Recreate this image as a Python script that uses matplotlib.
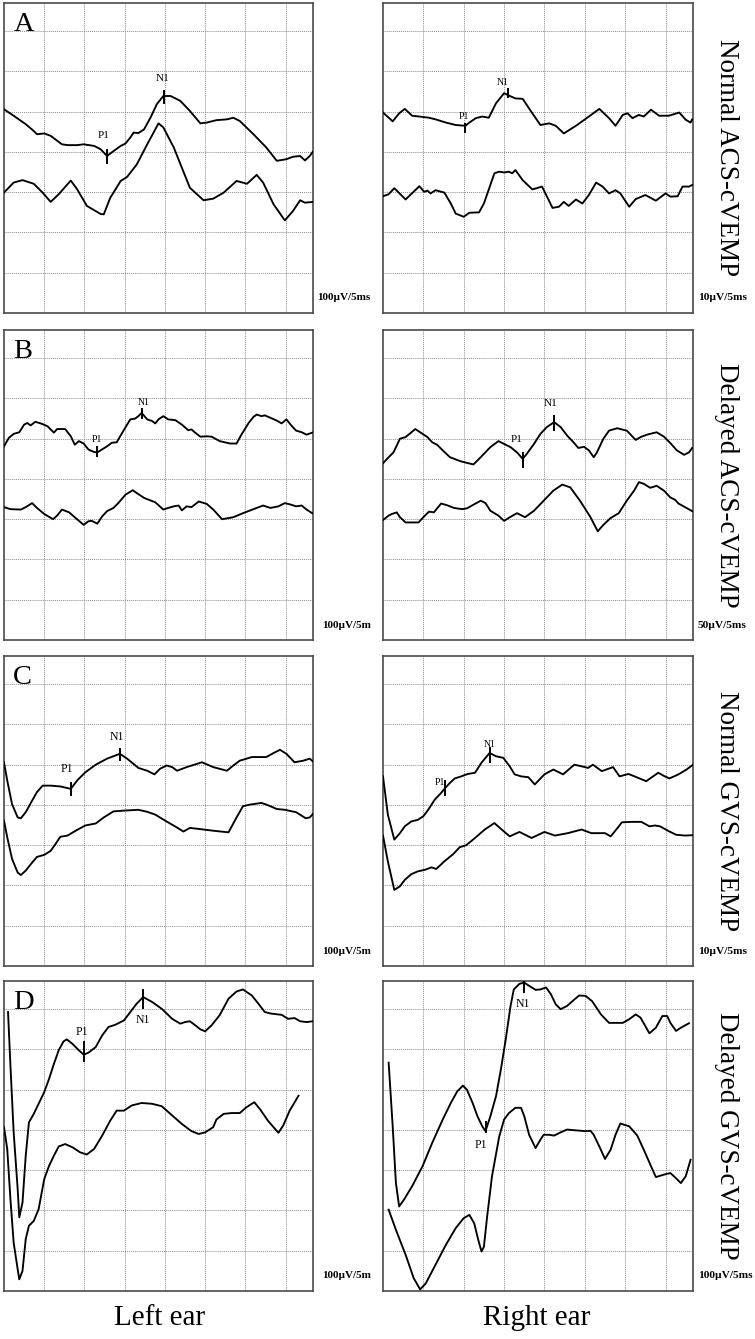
import matplotlib
matplotlib.use("Agg")
import matplotlib.pyplot as plt
from matplotlib.patches import Rectangle

# time in ms, amplitude in screen divisions (one grid square = 5 ms)
A_L_UP_T = [0.0, 1.2, 2.7, 3.7, 4.1, 5.0, 5.8, 7.2, 7.9, 9.1, 9.9, 11.2, 12.0, 12.8, 13.6, 14.5, 15.1, 15.7, 16.1, 16.7, 17.4, 18.2, 19.0, 19.8, 20.7, 21.9, 23.1, 24.4, 25.2, 26.4, 27.7, 28.5, 29.3, 31.0, 32.6, 33.9, 35.1, 35.9, 36.8, 37.4, 38.0, 38.4]
A_L_UP_V = [5.06, 4.90, 4.69, 4.52, 4.44, 4.46, 4.40, 4.19, 4.17, 4.17, 4.19, 4.15, 4.07, 3.90, 4.02, 4.15, 4.21, 4.36, 4.48, 4.47, 4.56, 4.85, 5.19, 5.39, 5.39, 5.27, 5.02, 4.71, 4.73, 4.79, 4.81, 4.85, 4.77, 4.44, 4.11, 3.78, 3.82, 3.88, 3.90, 3.79, 3.90, 4.01]
A_L_LO_T = [0.0, 1.2, 2.3, 3.7, 4.8, 5.8, 6.8, 8.3, 9.1, 10.3, 12.0, 12.4, 13.2, 14.5, 15.3, 16.5, 17.8, 19.2, 19.8, 21.1, 22.1, 23.1, 24.8, 26.0, 27.3, 28.9, 30.2, 31.4, 32.2, 33.5, 34.9, 35.9, 36.8, 37.4, 38.4]
A_L_LO_V = [2.99, 3.24, 3.30, 3.21, 2.99, 2.76, 2.95, 3.29, 3.07, 2.66, 2.46, 2.45, 2.86, 3.28, 3.38, 3.69, 4.19, 4.71, 4.61, 4.11, 3.61, 3.11, 2.80, 2.84, 2.99, 3.28, 3.21, 3.43, 3.24, 2.70, 2.30, 2.53, 2.80, 2.74, 2.76]
A_L_PEAK_T = [12.8, 19.9]
A_L_PEAK_V = [3.89, 5.37]

A_R_UP_T = [0.0, 1.2, 2.0, 2.7, 3.6, 4.5, 5.7, 6.5, 7.8, 9.0, 10.2, 10.7, 11.5, 12.3, 13.1, 14.0, 15.0, 15.6, 16.4, 17.3, 18.5, 19.5, 20.6, 21.4, 22.4, 23.9, 25.5, 26.8, 28.0, 28.8, 29.7, 30.3, 30.9, 31.7, 32.3, 33.2, 34.2, 35.4, 36.7, 37.5, 38.1, 38.3]
A_R_UP_V = [4.98, 4.76, 4.96, 5.07, 4.90, 4.88, 4.85, 4.81, 4.73, 4.67, 4.65, 4.73, 4.84, 4.88, 4.85, 5.21, 5.46, 5.40, 5.33, 5.32, 4.96, 4.67, 4.71, 4.65, 4.46, 4.65, 4.88, 5.07, 4.84, 4.65, 4.92, 4.96, 4.84, 4.92, 4.88, 5.05, 4.90, 4.90, 4.98, 4.80, 4.73, 4.81]
A_R_LO_T = [0.0, 0.7, 1.4, 2.8, 4.5, 5.1, 5.5, 5.9, 6.5, 7.6, 8.4, 9.0, 10.0, 10.7, 11.9, 12.5, 13.8, 14.4, 15.0, 15.6, 16.0, 16.4, 17.3, 18.5, 19.7, 21.0, 21.8, 22.4, 23.0, 23.9, 24.7, 25.5, 26.4, 27.2, 28.0, 28.8, 29.4, 30.5, 31.3, 32.5, 33.8, 35.0, 35.6, 36.5, 37.1, 37.9, 38.3]
A_R_LO_V = [2.90, 2.95, 3.10, 2.82, 3.15, 3.01, 3.04, 2.97, 3.05, 2.99, 2.72, 2.47, 2.39, 2.49, 2.50, 2.72, 3.47, 3.51, 3.49, 3.51, 3.47, 3.55, 3.30, 3.07, 3.14, 2.61, 2.64, 2.76, 2.66, 2.82, 2.72, 2.93, 3.24, 3.14, 2.97, 3.05, 2.97, 2.64, 2.83, 2.93, 2.79, 2.97, 2.89, 2.90, 3.14, 3.14, 3.18]
A_R_PEAK_T = [10.2, 15.5]
A_R_PEAK_V = [4.60, 5.46]

B_L_UP_T = [0.0, 0.6, 1.2, 1.9, 2.5, 2.9, 3.3, 3.9, 4.7, 5.4, 5.8, 6.2, 6.6, 7.6, 8.3, 8.8, 9.3, 9.9, 10.5, 11.2, 11.6, 12.0, 12.8, 13.4, 14.0, 14.7, 15.3, 15.7, 16.3, 16.7, 17.1, 17.8, 18.4, 18.8, 19.2, 19.8, 20.4, 21.3, 22.1, 22.9, 23.3, 23.7, 24.4, 25.2, 25.8, 26.8, 28.1, 28.9, 29.5, 30.4, 31.0, 31.4, 32.0, 32.4, 33.1, 33.9, 34.5, 35.1, 35.7, 36.3, 37.0, 37.6, 38.3]
B_L_UP_V = [4.81, 5.02, 5.12, 5.16, 5.35, 5.39, 5.33, 5.42, 5.37, 5.31, 5.23, 5.15, 5.24, 5.24, 5.06, 4.85, 4.94, 4.88, 4.73, 4.67, 4.66, 4.71, 4.81, 4.90, 4.91, 5.15, 5.35, 5.48, 5.50, 5.56, 5.64, 5.48, 5.44, 5.38, 5.48, 5.56, 5.48, 5.46, 5.35, 5.21, 5.23, 5.16, 5.05, 5.06, 5.05, 4.94, 4.88, 4.88, 5.10, 5.39, 5.54, 5.60, 5.56, 5.58, 5.52, 5.45, 5.38, 5.48, 5.33, 5.20, 5.16, 5.10, 5.15]
B_L_LO_T = [0.0, 0.8, 2.1, 2.7, 3.5, 4.1, 5.0, 6.1, 6.6, 7.2, 8.1, 8.9, 9.9, 10.5, 10.9, 11.6, 12.2, 12.8, 13.6, 14.2, 15.1, 16.0, 16.5, 17.4, 18.8, 19.8, 20.4, 21.1, 21.7, 22.1, 22.7, 23.3, 24.2, 25.2, 26.0, 27.1, 28.5, 29.7, 31.4, 32.2, 33.1, 34.1, 34.9, 35.7, 36.3, 37.0, 37.6, 38.3]
B_L_LO_V = [3.30, 3.25, 3.24, 3.30, 3.40, 3.28, 3.13, 3.00, 3.09, 3.24, 3.17, 3.03, 2.86, 2.95, 2.96, 2.89, 3.07, 3.20, 3.28, 3.40, 3.61, 3.72, 3.65, 3.53, 3.42, 3.24, 3.28, 3.32, 3.34, 3.22, 3.32, 3.30, 3.44, 3.38, 3.24, 3.00, 3.05, 3.15, 3.28, 3.34, 3.28, 3.32, 3.40, 3.36, 3.32, 3.34, 3.24, 3.15]
B_L_PEAK_T = [11.6, 17.1]
B_L_PEAK_V = [4.69, 5.62]

B_R_UP_T = [0.0, 0.7, 1.3, 1.7, 2.1, 2.8, 3.4, 4.0, 4.6, 5.5, 6.1, 6.7, 7.5, 8.3, 9.6, 11.2, 12.1, 13.3, 14.3, 15.0, 15.8, 16.6, 17.3, 17.8, 18.7, 19.5, 20.3, 21.2, 22.0, 22.8, 23.6, 24.2, 24.9, 25.5, 26.1, 26.5, 27.3, 28.0, 29.0, 30.2, 31.3, 31.9, 32.7, 33.9, 34.8, 35.6, 36.4, 37.3, 37.9, 38.3]
B_R_UP_V = [4.39, 4.54, 4.66, 4.83, 5.00, 5.04, 5.14, 5.24, 5.16, 5.04, 4.91, 4.85, 4.69, 4.54, 4.44, 4.36, 4.54, 4.79, 4.94, 4.87, 4.79, 4.66, 4.50, 4.62, 4.87, 5.12, 5.29, 5.41, 5.29, 5.08, 4.91, 4.77, 4.80, 4.71, 4.54, 4.66, 5.00, 5.20, 5.26, 5.20, 4.97, 5.04, 5.10, 5.16, 5.05, 4.89, 4.71, 4.60, 4.66, 4.77]
B_R_LO_T = [0.0, 0.7, 1.1, 1.7, 2.1, 2.8, 3.6, 4.4, 5.0, 5.7, 6.3, 7.2, 7.9, 8.8, 9.8, 10.4, 11.2, 12.1, 12.7, 13.3, 14.3, 15.0, 15.8, 16.6, 17.6, 18.7, 19.9, 21.1, 22.2, 23.2, 24.4, 25.7, 26.6, 27.3, 28.2, 29.2, 30.2, 31.1, 31.7, 32.3, 33.1, 33.9, 34.8, 35.6, 36.2, 36.6, 37.5, 38.3]
B_R_LO_V = [2.98, 3.09, 3.13, 3.17, 3.05, 2.92, 2.92, 2.92, 3.05, 3.19, 3.17, 3.39, 3.35, 3.28, 3.25, 3.27, 3.36, 3.46, 3.40, 3.21, 3.09, 2.96, 3.06, 3.15, 3.05, 3.21, 3.46, 3.71, 3.86, 3.79, 3.46, 3.05, 2.70, 2.86, 3.03, 3.15, 3.46, 3.71, 3.92, 3.88, 3.78, 3.83, 3.71, 3.54, 3.48, 3.39, 3.29, 3.20]
B_R_PEAK_T = [17.3, 21.2]
B_R_PEAK_V = [4.47, 5.39]

C_L_UP_T = [0.0, 0.4, 1.0, 1.7, 2.1, 2.7, 3.5, 4.1, 4.8, 5.8, 7.0, 8.3, 9.1, 10.1, 11.4, 12.8, 14.4, 15.3, 16.7, 17.8, 18.7, 19.4, 20.2, 20.9, 21.5, 22.7, 24.6, 26.0, 27.7, 28.5, 29.3, 30.8, 32.6, 33.5, 34.3, 35.1, 36.1, 37.2, 38.0, 38.4]
C_L_UP_V = [5.06, 4.61, 4.02, 3.69, 3.67, 3.82, 4.11, 4.32, 4.48, 4.48, 4.46, 4.40, 4.61, 4.81, 5.00, 5.15, 5.27, 5.15, 4.92, 4.85, 4.76, 4.90, 4.98, 4.94, 4.85, 4.94, 5.06, 4.94, 4.85, 4.98, 5.10, 5.19, 5.19, 5.29, 5.37, 5.27, 5.06, 5.10, 5.15, 5.08]
C_L_LO_T = [0.0, 0.4, 1.0, 1.7, 2.1, 2.7, 3.5, 4.1, 5.0, 5.8, 6.4, 7.0, 7.9, 8.9, 10.1, 11.4, 12.4, 13.6, 14.9, 16.7, 17.8, 18.8, 20.2, 21.5, 22.3, 23.1, 24.4, 26.0, 27.9, 28.9, 29.7, 30.6, 32.0, 32.6, 33.9, 34.9, 36.3, 37.5, 38.0, 38.4]
C_L_LO_V = [3.61, 3.20, 2.66, 2.32, 2.26, 2.37, 2.57, 2.71, 2.76, 2.86, 3.03, 3.21, 3.24, 3.36, 3.49, 3.54, 3.69, 3.84, 3.86, 3.88, 3.83, 3.76, 3.59, 3.44, 3.34, 3.43, 3.40, 3.36, 3.32, 3.69, 3.97, 4.01, 4.05, 4.01, 3.90, 3.88, 3.82, 3.67, 3.69, 3.78]
C_L_PEAK_T = [8.3, 14.4]
C_L_PEAK_V = [4.40, 5.25]

C_R_UP_T = [0.0, 0.6, 1.4, 2.1, 2.7, 3.5, 4.3, 5.0, 5.6, 6.4, 7.2, 7.7, 8.3, 8.9, 9.7, 10.5, 11.4, 12.2, 13.2, 14.0, 14.9, 15.7, 16.3, 17.1, 18.0, 18.8, 20.0, 21.1, 22.3, 23.7, 24.6, 25.4, 26.0, 27.1, 28.5, 29.3, 30.4, 31.4, 32.6, 34.1, 34.9, 35.5, 36.6, 37.6, 38.4]
C_R_UP_V = [4.71, 3.76, 3.14, 3.30, 3.47, 3.59, 3.63, 3.72, 3.88, 4.13, 4.30, 4.42, 4.55, 4.66, 4.71, 4.77, 4.80, 5.05, 5.29, 5.21, 5.17, 4.96, 4.76, 4.71, 4.69, 4.51, 4.76, 4.88, 4.76, 5.00, 4.96, 4.92, 5.00, 4.84, 4.94, 4.71, 4.77, 4.69, 4.59, 4.80, 4.71, 4.66, 4.76, 4.88, 5.00]
C_R_LO_T = [0.0, 0.6, 1.4, 2.1, 2.7, 3.5, 4.3, 5.2, 6.0, 6.6, 7.6, 8.7, 9.5, 10.3, 11.4, 12.6, 13.8, 14.7, 15.7, 16.9, 18.4, 20.0, 21.3, 22.9, 24.6, 25.8, 27.5, 28.2, 28.9, 29.6, 30.8, 32.0, 33.0, 33.7, 34.3, 35.3, 36.3, 37.4, 38.4]
C_R_LO_V = [3.24, 2.60, 1.89, 1.98, 2.14, 2.28, 2.35, 2.39, 2.45, 2.41, 2.60, 2.78, 2.95, 3.00, 3.18, 3.39, 3.55, 3.39, 3.22, 3.33, 3.18, 3.33, 3.24, 3.30, 3.39, 3.30, 3.30, 3.22, 3.39, 3.57, 3.58, 3.58, 3.47, 3.49, 3.47, 3.36, 3.26, 3.24, 3.25]
C_R_PEAK_T = [7.7, 13.2]
C_R_PEAK_V = [4.42, 5.25]

D_L_UP_T = [0.5, 0.8, 1.2, 1.7, 1.9, 2.3, 2.7, 3.1, 3.7, 4.3, 5.0, 5.6, 6.2, 6.8, 7.4, 7.8, 8.5, 9.3, 9.9, 10.5, 11.4, 12.2, 13.0, 13.8, 14.9, 15.7, 16.5, 17.3, 18.4, 19.6, 20.9, 21.9, 22.5, 23.1, 23.7, 24.4, 25.0, 25.8, 26.8, 27.9, 28.9, 29.7, 30.8, 31.6, 32.4, 33.2, 34.5, 35.3, 36.1, 36.8, 37.6, 38.4]
D_L_UP_V = [6.93, 5.60, 3.94, 2.53, 1.83, 2.20, 3.36, 4.19, 4.40, 4.65, 4.94, 5.27, 5.64, 5.98, 6.20, 6.25, 6.14, 5.98, 5.87, 5.92, 6.06, 6.35, 6.56, 6.61, 6.72, 6.93, 7.14, 7.30, 7.18, 7.01, 6.76, 6.64, 6.68, 6.70, 6.61, 6.50, 6.45, 6.60, 6.85, 7.26, 7.44, 7.49, 7.34, 7.14, 6.93, 6.89, 6.86, 6.76, 6.78, 6.70, 6.68, 6.70]
D_L_LO_T = [0.0, 0.4, 0.8, 1.2, 1.7, 1.9, 2.3, 2.7, 3.1, 3.7, 4.3, 5.0, 5.6, 6.2, 6.8, 7.6, 8.5, 9.5, 10.3, 11.2, 12.2, 13.2, 14.0, 14.9, 15.9, 17.1, 18.4, 19.6, 20.9, 22.1, 23.3, 24.2, 25.0, 26.0, 26.4, 27.3, 28.3, 29.3, 30.1, 31.1, 31.8, 32.8, 34.1, 34.7, 35.5, 36.6]
D_L_LO_V = [4.07, 3.53, 2.28, 1.20, 0.54, 0.29, 0.50, 1.29, 1.62, 1.74, 2.03, 2.78, 3.11, 3.36, 3.59, 3.65, 3.57, 3.44, 3.39, 3.53, 3.86, 4.23, 4.48, 4.48, 4.61, 4.67, 4.65, 4.59, 4.36, 4.15, 3.97, 3.90, 3.94, 4.07, 4.26, 4.40, 4.42, 4.42, 4.56, 4.69, 4.52, 4.23, 3.93, 4.11, 4.48, 4.85]
D_L_PEAK_T = [9.9, 17.3]
D_L_PEAK_V = [5.95, 7.25]

D_R_UP_T = [0.7, 1.2, 1.6, 2.0, 2.6, 3.6, 4.9, 6.1, 7.4, 8.4, 9.2, 9.9, 10.4, 11.1, 11.7, 12.3, 12.7, 13.3, 14.0, 14.6, 15.2, 15.8, 16.2, 16.9, 17.5, 18.1, 18.9, 19.5, 20.2, 20.8, 21.4, 22.0, 22.8, 23.7, 24.3, 25.1, 25.9, 27.0, 28.0, 29.7, 30.5, 31.3, 31.9, 33.0, 33.8, 34.6, 35.2, 35.6, 36.3, 36.9, 37.9]
D_R_UP_V = [5.67, 4.09, 2.68, 2.10, 2.27, 2.60, 3.10, 3.68, 4.26, 4.67, 4.96, 5.10, 5.00, 4.67, 4.34, 4.09, 3.97, 4.34, 4.84, 5.50, 6.25, 7.08, 7.49, 7.63, 7.66, 7.58, 7.48, 7.49, 7.54, 7.37, 7.12, 7.00, 7.08, 7.24, 7.34, 7.33, 7.20, 6.87, 6.66, 6.66, 6.75, 6.87, 6.79, 6.40, 6.54, 6.83, 6.83, 6.66, 6.46, 6.54, 6.65]
D_R_LO_T = [0.7, 1.6, 2.8, 3.8, 4.6, 5.3, 6.5, 7.8, 9.0, 10.0, 10.7, 11.3, 11.8, 12.2, 12.5, 12.9, 13.5, 14.4, 15.0, 15.6, 16.4, 17.1, 17.5, 18.1, 18.9, 19.5, 19.9, 20.6, 21.2, 22.0, 22.8, 23.9, 25.1, 25.7, 26.1, 26.8, 27.5, 28.2, 28.8, 29.4, 30.5, 31.5, 32.3, 33.2, 33.8, 34.8, 35.6, 36.3, 36.9, 37.5, 38.1]
D_R_LO_V = [2.02, 1.52, 0.90, 0.32, 0.04, 0.19, 0.65, 1.15, 1.56, 1.81, 1.89, 1.68, 1.27, 0.98, 1.10, 1.85, 2.85, 3.84, 4.26, 4.42, 4.55, 4.55, 4.34, 3.88, 3.55, 3.76, 3.88, 3.88, 3.86, 3.94, 4.01, 3.99, 3.97, 3.98, 3.88, 3.59, 3.28, 3.51, 3.88, 4.16, 4.09, 3.86, 3.51, 3.10, 2.83, 2.89, 2.93, 2.80, 2.68, 2.85, 3.26]
D_R_PEAK_T = [12.7, 17.5]
D_R_PEAK_V = [4.07, 7.55]

PEAK_NAMES = ["P1", "N1"]
ROW_LETTERS = ["A", "B", "C", "D"]
ROW_TITLES = ["Normal ACS-cVEMP", "Delayed ACS-cVEMP", "Normal GVS-cVEMP", "Delayed GVS-cVEMP"]
SCALE_LEFT = ["100µV/5ms", "100µV/5ms", "100µV/5ms", "100µV/5ms"]
SCALE_RIGHT = ["10µV/5ms", "50µV/5ms", "10µV/5ms", "100µV/5ms"]
EAR_LABELS = ["Left ear", "Right ear"]

W, H = 755, 1339
COL_X = [(4, 313), (383, 693)]
ROW_Y = [(3, 313), (330, 640), (656, 966), (981, 1291)]

plt.rcParams["font.family"] = ["Liberation Serif", "DejaVu Serif"]


def px_box(x0, y0, x1, y1):
    return [x0 / W, 1 - y1 / H, (x1 - x0) / W, (y1 - y0) / H]


def draw_panel(ax, up, lo, peaks, tick_half, label_off, label_size):
    ax.set_xlim(0, 38.4)
    ax.set_ylim(0, 7.7)
    ax.set_xticks([])
    ax.set_yticks([])
    for x in range(5, 40, 5):
        ax.axvline(x, color="#8c8c8c", lw=0.7, ls=(0, (1, 1)), zorder=1)
    for y in range(1, 8):
        ax.axhline(y, color="#8c8c8c", lw=0.7, ls=(0, (1, 1)), zorder=1)
    for s in ax.spines.values():
        s.set_color("#4a4a4a")
        s.set_linewidth(1.2)
    ax.plot(up[0], up[1], color="black", lw=1.35, zorder=3)
    ax.plot(lo[0], lo[1], color="black", lw=1.35, zorder=3)
    for name, t, v, (dt, dv) in zip(PEAK_NAMES, peaks[0], peaks[1], label_off):
        ax.vlines(t, v - tick_half, v + tick_half, color="black", lw=1.4, zorder=4)
        ax.text(t + dt, v + dv, name, fontsize=label_size, ha="center", va="center", zorder=5)


fig = plt.figure(figsize=(W / 100, H / 100), dpi=100)

panels = [
    [((A_L_UP_T, A_L_UP_V), (A_L_LO_T, A_L_LO_V), (A_L_PEAK_T, A_L_PEAK_V), 0.18, [(-0.4, 0.51), (-0.2, 0.46)], 8),
     ((A_R_UP_T, A_R_UP_V), (A_R_LO_T, A_R_LO_V), (A_R_PEAK_T, A_R_PEAK_V), 0.13, [(-0.2, 0.28), (-0.7, 0.27)], 7)],
    [((B_L_UP_T, B_L_UP_V), (B_L_LO_T, B_L_LO_V), (B_L_PEAK_T, B_L_PEAK_V), 0.14, [(0.0, 0.29), (0.2, 0.27)], 7),
     ((B_R_UP_T, B_R_UP_V), (B_R_LO_T, B_R_LO_V), (B_R_PEAK_T, B_R_PEAK_V), 0.19, [(-0.7, 0.50), (-0.5, 0.49)], 8)],
    [((C_L_UP_T, C_L_UP_V), (C_L_LO_T, C_L_LO_V), (C_L_PEAK_T, C_L_PEAK_V), 0.17, [(-0.5, 0.50), (-0.4, 0.45)], 8.5),
     ((C_R_UP_T, C_R_UP_V), (C_R_LO_T, C_R_LO_V), (C_R_PEAK_T, C_R_PEAK_V), 0.20, [(-0.7, 0.13), (0.0, 0.25)], 7)],
    [((D_L_UP_T, D_L_UP_V), (D_L_LO_T, D_L_LO_V), (D_L_PEAK_T, D_L_PEAK_V), 0.25, [(-0.2, 0.48), (0.0, -0.53)], 8.5),
     ((D_R_UP_T, D_R_UP_V), (D_R_LO_T, D_R_LO_V), (D_R_PEAK_T, D_R_PEAK_V), 0.15, [(-0.6, -0.44), (-0.2, -0.43)], 8.5)],
]

for r, (y0, y1) in enumerate(ROW_Y):
    for c, (x0, x1) in enumerate(COL_X):
        ax = fig.add_axes(px_box(x0, y0, x1, y1))
        draw_panel(ax, *panels[r][c])
        if c == 0:
            ax.text(0.03, 0.93, ROW_LETTERS[r], transform=ax.transAxes,
                    fontsize=20.5, ha="left", va="center")

    # scale labels; rows B-D have the left one cut off in the source figure
    sx = 317 if r == 0 else 322
    fig.text(sx / W, 1 - (y1 - 15) / H, SCALE_LEFT[r], fontsize=8.0,
             fontweight="bold", ha="left", va="center", zorder=3)
    if r > 0:
        fig.add_artist(Rectangle((371 / W, 1 - (y1 - 4) / H), 9 / W, 22 / H,
                                 transform=fig.transFigure, color="white", zorder=6))
    fig.text(698 / W, 1 - (y1 - 15) / H, SCALE_RIGHT[r], fontsize=8.2,
             fontweight="bold", ha="left", va="center")

    # condition name on the right
    fig.text(727 / W, 1 - (y0 + y1) / 2 / H, ROW_TITLES[r], rotation=270,
             fontsize=19.5, ha="center", va="center")

fig.text(160 / W, 1 - 1318 / H, EAR_LABELS[0], fontsize=21, ha="center", va="center")
fig.text(537 / W, 1 - 1318 / H, EAR_LABELS[1], fontsize=21, ha="center", va="center")

fig.savefig("out.png", dpi=100)
